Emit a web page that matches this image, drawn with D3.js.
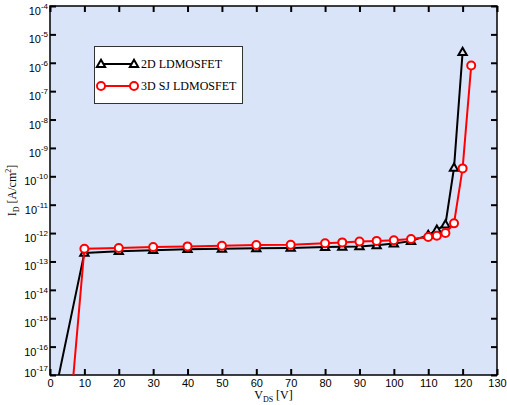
<!DOCTYPE html>
<html>
<head>
<meta charset="utf-8">
<script src="https://cdn.jsdelivr.net/npm/d3@7"></script>
<style>
  body { margin: 0; background: #fff; }
  svg { display: block; }
</style>
</head>
<body>
<script>
const WIDTH = 507;
const HEIGHT = 405;
const MARGIN = { top: 6, right: 10, bottom: 30, left: 50 };

// x tick values and y decade exponents
const xTicks = [0, 10, 20, 30, 40, 50, 60, 70, 80, 90, 100, 110, 120, 130];
const yExponents = [-4, -5, -6, -7, -8, -9, -10, -11, -12, -13, -14, -15, -16, -17];

// 2D LDMOSFET
const vds2D = [0, 2.5, 10, 20, 30, 40, 50, 60, 70, 80, 85, 90, 95, 100, 105, 110, 112.5, 115, 117.5, 120];
const id2D = [0.9e-17, 0.9e-17, 2.0e-13, 2.3e-13, 2.5e-13, 2.7e-13, 2.8e-13, 2.9e-13, 3.0e-13, 3.2e-13,
  3.3e-13, 3.4e-13, 3.7e-13, 4.3e-13, 5.2e-13, 8.5e-13, 1.3e-12, 2.0e-12, 2.0e-10, 2.4e-6];

// 3D SJ LDMOSFET
const vds3D = [5, 10, 20, 30, 40, 50, 60, 70, 80, 85, 90, 95, 100, 105, 110, 112.5, 115, 117.5, 120, 122.5];
const id3D = [3e-20, 2.8e-13, 3.0e-13, 3.2e-13, 3.4e-13, 3.6e-13, 3.8e-13, 3.9e-13, 4.4e-13, 4.7e-13,
  5.0e-13, 5.3e-13, 5.6e-13, 6.2e-13, 7.3e-13, 8.0e-13, 1.0e-12, 2.2e-12, 1.9e-10, 8e-7];

const series = [
  { name: "2D LDMOSFET", x: vds2D, y: id2D, color: "#000000", marker: "triangle" },
  { name: "3D SJ LDMOSFET", x: vds3D, y: id3D, color: "#ff0000", marker: "circle" },
];

const svg = d3.select("body").append("svg").attr("width", WIDTH).attr("height", HEIGHT);

const xScale = d3.scaleLinear().domain([0, 130]).range([MARGIN.left, WIDTH - MARGIN.right]);
const yScale = d3.scaleLog().domain([1e-17, 1e-4]).range([HEIGHT - MARGIN.bottom, MARGIN.top]);

const x0 = xScale.range()[0], x1 = xScale.range()[1];
const y0 = yScale.range()[1], y1 = yScale.range()[0];

// plot background
svg.append("rect")
  .attr("x", x0).attr("y", y0)
  .attr("width", x1 - x0).attr("height", y1 - y0)
  .attr("fill", "#dae4f8");

svg.append("clipPath").attr("id", "plot-clip")
  .append("rect")
  .attr("x", x0).attr("y", y0)
  .attr("width", x1 - x0).attr("height", y1 - y0);

// axes with inward ticks on all four sides
function styleAxis(g) {
  g.select(".domain").remove();
  g.selectAll(".tick line").attr("stroke", "#000").attr("stroke-width", 2);
}

svg.append("g")
  .attr("transform", `translate(0, ${y1})`)
  .call(d3.axisBottom(xScale).tickValues(xTicks).tickSizeInner(-6).tickSizeOuter(0).tickPadding(6))
  .call(styleAxis)
  .call((g) => g.selectAll(".tick text")
    .attr("font-family", "Liberation Sans, sans-serif")
    .attr("font-size", 11)
    .attr("fill", "#000")
    .attr("dy", "0.55em"));

svg.append("g")
  .attr("transform", `translate(0, ${y0})`)
  .call(d3.axisTop(xScale).tickValues(xTicks).tickSizeInner(-6).tickSizeOuter(0).tickFormat(() => ""))
  .call(styleAxis);

const yTickValues = yExponents.map((e) => Math.pow(10, e));

svg.append("g")
  .attr("transform", `translate(${x0}, 0)`)
  .call(d3.axisLeft(yScale).tickValues(yTickValues).tickSizeInner(-6).tickSizeOuter(0).tickFormat(() => ""))
  .call(styleAxis);

svg.append("g")
  .attr("transform", `translate(${x1}, 0)`)
  .call(d3.axisRight(yScale).tickValues(yTickValues).tickSizeInner(-6).tickSizeOuter(0).tickFormat(() => ""))
  .call(styleAxis);

// y tick labels as 10 with superscript exponent, sitting just below each tick
const yLabels = svg.append("g")
  .attr("font-family", "Liberation Sans, sans-serif")
  .attr("fill", "#000");

yExponents.forEach((e) => {
  const t = yLabels.append("text")
    .attr("x", x0 - 2)
    .attr("y", Math.min(yScale(Math.pow(10, e)) + 9, y1 + 2))
    .attr("text-anchor", "end");
  t.append("tspan").attr("font-size", 11).text("10");
  t.append("tspan").attr("font-size", 8).attr("dy", -6).text("-" + Math.abs(e));
});

// frame
svg.append("rect")
  .attr("x", x0).attr("y", y0)
  .attr("width", x1 - x0).attr("height", y1 - y0)
  .attr("fill", "none")
  .attr("stroke", "#000")
  .attr("stroke-width", 1.5);

// series
const plot = svg.append("g").attr("clip-path", "url(#plot-clip)");
const line = d3.line().x((d) => xScale(d[0])).y((d) => yScale(d[1]));
const triangle = d3.symbol().type(d3.symbolTriangle).size(30);

function drawMarker(g, s, cx, cy, fill) {
  if (s.marker === "triangle") {
    g.append("path")
      .attr("d", triangle())
      .attr("transform", `translate(${cx}, ${cy + 0.5})`)
      .attr("fill", fill)
      .attr("stroke", s.color)
      .attr("stroke-width", 2);
  } else {
    g.append("circle")
      .attr("cx", cx).attr("cy", cy).attr("r", 4)
      .attr("fill", "#fff")
      .attr("stroke", s.color)
      .attr("stroke-width", 2);
  }
}

series.forEach((s) => {
  const pts = s.x.map((v, i) => [v, s.y[i]]);
  plot.append("path")
    .datum(pts)
    .attr("d", line)
    .attr("fill", "none")
    .attr("stroke", s.color)
    .attr("stroke-width", 2);
  const mg = plot.append("g");
  pts.filter((p) => p[1] > 1e-17).forEach((p) => drawMarker(mg, s, xScale(p[0]), yScale(p[1]), "#dae4f8"));
});

// legend
const legend = svg.append("g");
legend.append("rect")
  .attr("x", 94.5).attr("y", 46.5)
  .attr("width", 148).attr("height", 57)
  .attr("fill", "#fff")
  .attr("stroke", "#333")
  .attr("stroke-width", 1);

series.forEach((s, i) => {
  const ly = 64 + i * 22;
  legend.append("line")
    .attr("x1", 101).attr("x2", 134)
    .attr("y1", ly).attr("y2", ly)
    .attr("stroke", s.color)
    .attr("stroke-width", 2);
  drawMarker(legend, s, 101, ly, "#fff");
  drawMarker(legend, s, 134, ly, "#fff");
  legend.append("text")
    .attr("x", 141).attr("y", ly + 4)
    .attr("font-family", "Liberation Serif, serif")
    .attr("font-size", 12)
    .attr("fill", "#000")
    .text(s.name);
});

// axis titles
const xt = svg.append("text")
  .attr("x", (x0 + x1) / 2)
  .attr("y", 399)
  .attr("text-anchor", "middle")
  .attr("font-family", "Liberation Serif, serif")
  .attr("font-size", 12)
  .attr("fill", "#000");
xt.append("tspan").text("V");
xt.append("tspan").attr("font-size", 8).attr("dy", 3).text("DS");
xt.append("tspan").attr("dy", -3).text(" [V]");

const yt = svg.append("text")
  .attr("transform", `translate(16, ${(y0 + y1) / 2}) rotate(-90)`)
  .attr("text-anchor", "middle")
  .attr("font-family", "Liberation Serif, serif")
  .attr("font-size", 12)
  .attr("fill", "#000");
yt.append("tspan").text("I");
yt.append("tspan").attr("font-size", 8).attr("dy", 3).text("D");
yt.append("tspan").attr("dy", -3).text(" [A/cm");
yt.append("tspan").attr("font-size", 8).attr("dy", -5).text("2");
yt.append("tspan").attr("dy", 5).text("]");
</script>
</body>
</html>
